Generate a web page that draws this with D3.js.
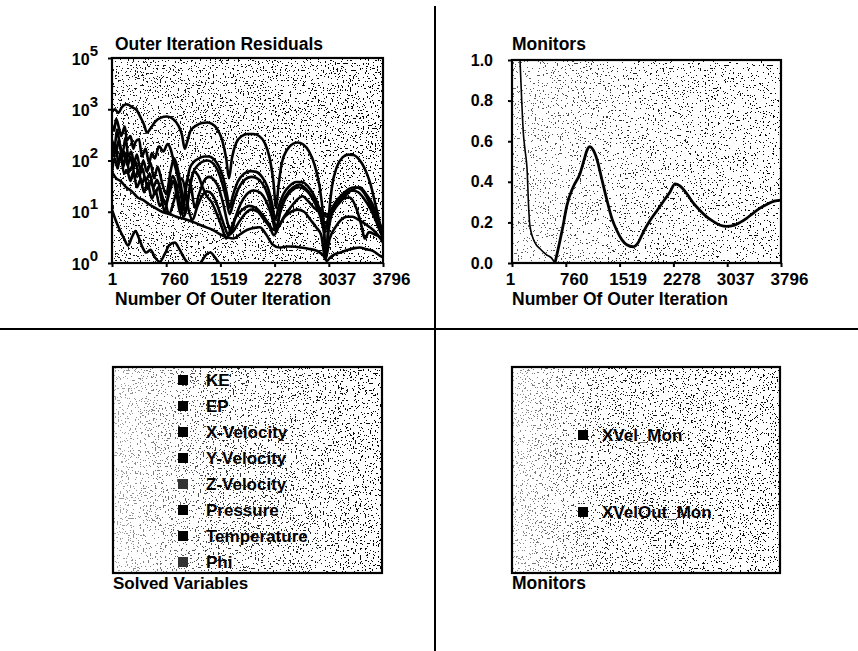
<!DOCTYPE html>
<html><head><meta charset="utf-8">
<script src="https://cdn.jsdelivr.net/npm/d3@7/dist/d3.min.js"></script>
<style>
body{margin:0;background:#fff}
svg{display:block}
text{font-family:"Liberation Sans",Arial,sans-serif;font-weight:bold;fill:#000}
</style>
</head><body>
<svg id="chart" width="858" height="651"></svg>
<script>
// ---------- data ----------
const iterTicks = [1, 760, 1519, 2278, 3037, 3796];
const iterTickLabels = ["1", "760", "1519", "2278", "3037", "3796"];
const residualTicks = [1, 10, 100, 1000, 10000];
const residualTickExp = ["0", "1", "2", "3", "5"];
const monitorTicks = [0, 0.2, 0.4, 0.6, 0.8, 1.0];
const monitorTickLabels = ["0.0", "0.2", "0.4", "0.6", "0.8", "1.0"];
const solvedVariables = ["KE", "EP", "X-Velocity", "Y-Velocity", "Z-Velocity", "Pressure", "Temperature", "Phi"];
const monitorNames = ["XVel_Mon", "XVelOut_Mon"];

// residuals: [outer iteration, residual]
const resKE = [[1,900],[40,1000],[90,850],[140,1100],[210,1250],[280,1100],[350,950],[400,700],[450,500],[490,350],[540,420],[600,560],[680,680],[770,720],[860,640],[930,480],[980,320],[1020,170],[1050,220],[1100,380],[1180,480],[1260,540],[1330,550],[1400,520],[1470,420],[1540,260],[1600,110],[1640,45],[1680,110],[1740,220],[1820,300],[1900,330],[1975,330],[2060,300],[2140,220],[2210,110],[2260,40],[2300,12],[2330,30],[2380,90],[2450,160],[2530,210],[2600,225],[2680,205],[2760,150],[2840,80],[2910,30],[2960,8],[3000,1.3],[3030,6],[3080,30],[3150,75],[3230,115],[3310,130],[3380,128],[3460,105],[3540,70],[3620,35],[3690,14],[3750,6],[3796,3]];
const resEP = [[1,500],[30,380],[60,650],[100,420],[130,300],[180,460],[210,250],[260,300],[300,170],[330,230],[380,260],[420,120],[470,170],[520,90],[560,140],[600,110],[660,190],[720,150],[780,210],[820,170],[870,90],[920,50],[960,25],[1000,12],[1040,30],[1090,70],[1150,95],[1220,110],[1290,120],[1360,120],[1430,105],[1500,75],[1560,45],[1610,22],[1650,12],[1690,20],[1760,38],[1850,55],[1940,62],[2020,60],[2100,48],[2180,30],[2240,15],[2290,7],[2330,12],[2400,22],[2490,32],[2580,38],[2660,38],[2740,32],[2820,22],[2900,12],[2960,5],[3000,1.5],[3040,5],[3110,12],[3200,18],[3290,24],[3370,26],[3450,24],[3530,18],[3610,12],[3690,7],[3760,4],[3796,3]];
const resXVel = [[1,250],[40,190],[70,400],[110,210],[150,140],[190,280],[230,120],[270,150],[310,90],[350,130],[400,65],[440,100],[490,60],[540,90],[590,45],[640,75],[700,38],[760,22],[820,60],[870,110],[920,70],[970,30],[1020,10],[1070,20],[1130,55],[1200,80],[1270,95],[1340,100],[1410,90],[1480,65],[1540,38],[1600,18],[1650,9],[1700,15],[1770,28],[1860,42],[1950,48],[2030,45],[2110,35],[2190,20],[2250,9],[2300,5],[2350,9],[2430,18],[2520,26],[2610,30],[2690,28],[2770,22],[2850,14],[2920,8],[2980,4],[3010,6],[3060,10],[3140,16],[3230,22],[3320,28],[3400,30],[3480,28],[3560,20],[3640,12],[3720,7],[3796,4]];
const resYVel = [[1,120],[30,200],[60,150],[100,260],[140,110],[170,150],[220,80],[260,120],[300,70],[330,95],[380,50],[430,70],[470,40],[530,55],[580,30],[630,42],[690,24],[750,14],[810,25],[860,40],[910,20],[960,9],[1010,20],[1060,45],[1110,30],[1160,12],[1220,22],[1290,40],[1360,48],[1430,42],[1500,28],[1560,14],[1620,6],[1670,4],[1720,7],[1800,14],[1890,22],[1980,26],[2070,24],[2160,16],[2240,8],[2300,4],[2360,12],[2450,22],[2540,30],[2630,34],[2720,28],[2820,18],[2920,11],[3010,8],[3080,11],[3150,14],[3240,18],[3330,19],[3420,12],[3500,5],[3540,3],[3600,4],[3700,3.5],[3796,3]];
const resZVel = [[1,60],[40,110],[80,70],[120,140],[170,55],[210,65],[260,40],[300,60],[350,30],[400,42],[450,24],[500,36],[560,18],[610,26],[670,13],[730,17],[800,9],[860,15],[920,30],[980,45],[1030,25],[1080,10],[1130,7],[1190,12],[1260,20],[1330,25],[1400,22],[1470,14],[1530,8],[1580,5],[1630,3.5],[1690,4],[1770,6],[1860,9],[1950,11],[2040,10],[2130,7],[2210,5],[2270,3.5],[2330,5],[2420,8],[2510,10],[2600,11],[2690,10],[2780,7],[2860,5],[2930,3.5],[2990,1.2],[3050,3],[3130,5],[3210,7],[3290,8],[3370,8],[3450,7],[3530,6],[3610,5],[3690,4],[3760,3],[3796,2.5]];
const resPressure = [[1,180],[30,120],[50,210],[90,90],[130,120],[160,75],[200,140],[240,60],[290,80],[320,45],[370,65],[420,35],[460,48],[500,28],[550,40],[600,22],[650,30],[700,16],[740,10],[790,22],[850,50],[900,35],[950,15],[1000,8],[1050,12],[1100,35],[1150,60],[1210,50],[1270,30],[1330,20],[1400,15],[1470,9],[1540,5],[1600,3],[1660,4.5],[1740,8],[1830,11],[1920,13],[2010,12],[2100,9],[2190,6],[2260,4.5],[2330,5],[2410,8],[2500,12],[2590,17],[2670,20],[2750,16],[2830,12],[2910,10],[2980,9],[3052,9],[3150,13],[3250,19],[3350,26],[3470,30],[3560,22],[3650,14],[3730,7],[3796,4]];
const resTemperature = [[1,60],[60,45],[120,40],[200,30],[280,25],[360,19],[435,17],[520,14],[600,12],[700,10],[810,9],[900,8],[1050,7],[1150,6.2],[1280,5.2],[1415,4.4],[1520,3.6],[1610,3.2],[1700,3],[1790,3.6],[1890,4.4],[1980,4.8],[2070,5],[2160,3.6],[2250,2.3],[2350,2],[2450,2.1],[2535,2.1],[2650,2],[2750,1.9],[2880,1.7],[2960,1.4],[3010,1.1],[3060,1.3],[3130,1.5],[3200,1.6],[3300,1.8],[3400,1.95],[3470,2],[3560,1.85],[3660,1.7],[3750,1.4],[3796,1.3]];
const resPhi = [[1,11],[50,7],[110,4.4],[170,3],[225,2.2],[280,3.2],[330,4.2],[380,3],[430,2],[480,1.6],[540,1.8],[600,1.3],[670,1.05],[740,1.5],[800,2.2],[880,2.5],[950,1.8],[1020,1.2],[1100,0.9],[1180,0.8],[1260,1.1],[1330,1.5],[1380,1.6],[1440,1.3],[1500,1.0],[1560,0.8],[1700,0.6],[2000,0.5],[2400,0.6],[2800,0.7],[3200,0.6],[3796,0.5]];

// monitors: [outer iteration, value]
const monXVel = [[60,1.3],[114,1.0],[138,0.8],[161,0.64],[184,0.56],[217,0.44],[231,0.31],[255,0.18],[325,0.10],[396,0.07],[490,0.04],[560,0.024],[607,0.0]];
const monXVelOut = [[607,0],[640,0.05],[678,0.11],[730,0.2],[773,0.28],[866,0.376],[960,0.44],[1020,0.51],[1060,0.556],[1100,0.573],[1140,0.56],[1200,0.51],[1270,0.41],[1340,0.31],[1410,0.22],[1480,0.16],[1550,0.115],[1620,0.09],[1712,0.08],[1780,0.1],[1850,0.15],[1950,0.21],[2050,0.26],[2150,0.31],[2230,0.35],[2301,0.39],[2370,0.38],[2470,0.34],[2560,0.295],[2650,0.26],[2740,0.23],[2840,0.205],[2940,0.186],[3030,0.18],[3130,0.185],[3220,0.2],[3310,0.22],[3400,0.245],[3500,0.27],[3600,0.29],[3700,0.305],[3796,0.31]];

const residualSeries = [resKE, resEP, resXVel, resYVel, resZVel, resPressure, resTemperature, resPhi];
const monitorSeries = [monXVel, monXVelOut];

// ---------- drawing ----------
const svg = d3.select("#chart");
const defs = svg.append("defs");

function speckleFilter(id, seed, freq, thresholdIndex) {
  const f = defs.append("filter").attr("id", id)
    .attr("x", 0).attr("y", 0).attr("width", "100%").attr("height", "100%")
    .attr("color-interpolation-filters", "sRGB");
  f.append("feTurbulence").attr("type", "fractalNoise").attr("baseFrequency", freq)
    .attr("numOctaves", 2).attr("seed", seed).attr("result", "n");
  f.append("feColorMatrix").attr("in", "n").attr("type", "matrix")
    .attr("values", "0 0 0 0 0  0 0 0 0 0  0 0 0 0 0  1 0 0 0 0").attr("result", "a");
  const table = d3.range(40).map(i => i >= thresholdIndex ? 1 : 0).join(" ");
  f.append("feComponentTransfer").attr("in", "a")
    .append("feFuncA").attr("type", "discrete").attr("tableValues", table);
}
speckleFilter("speckA", 3, 0.6, 26);
speckleFilter("speckB", 8, 0.6, 27);
speckleFilter("speckC", 13, 0.6, 26);
speckleFilter("speckD", 21, 0.6, 26);

function gradMask(id, stops) {
  const g = defs.append("linearGradient").attr("id", id + "g").attr("x1", 0).attr("x2", 1).attr("y1", 0).attr("y2", 0);
  stops.forEach(s => g.append("stop").attr("offset", s[0]).attr("stop-color", "#fff").attr("stop-opacity", s[1]));
  const m = defs.append("mask").attr("id", id).attr("maskContentUnits", "objectBoundingBox");
  m.append("rect").attr("width", 1).attr("height", 1).attr("fill", `url(#${id}g)`);
}
gradMask("mTL", [[0, 0.9], [1, 1]]);
gradMask("mTR", [[0, 0.6], [0.5, 0.9], [1, 1]]);
gradMask("mBL", [[0, 0.35], [0.4, 0.8], [1, 1]]);
gradMask("mBR", [[0, 0.4], [0.35, 0.9], [1, 1]]);

function texturedBox(x, y, w, h, filterId, maskId) {
  svg.append("rect").attr("x", x).attr("y", y).attr("width", w).attr("height", h).attr("fill", "#fff");
  svg.append("rect").attr("x", x).attr("y", y).attr("width", w).attr("height", h)
    .attr("fill", "#000").attr("filter", `url(#${filterId})`).attr("mask", `url(#${maskId})`);
}
function frame(x, y, w, h) {
  svg.append("rect").attr("x", x).attr("y", y).attr("width", w).attr("height", h)
    .attr("fill", "none").attr("stroke", "#000").attr("stroke-width", 2.2);
}

// dividers
svg.append("line").attr("x1", 0).attr("x2", 858).attr("y1", 329).attr("y2", 329).attr("stroke", "#000").attr("stroke-width", 2);
svg.append("line").attr("x1", 435).attr("x2", 435).attr("y1", 6).attr("y2", 651).attr("stroke", "#000").attr("stroke-width", 2);

// ---- Panel 1: Outer Iteration Residuals ----
{
  const L = 112, R = 383, T = 58, B = 263;
  const x = d3.scaleLinear().domain([1, 3796]).range([L, R]);
  const y = d3.scaleLog().domain([1, 10000]).range([B, T]);
  texturedBox(L, T, R - L, B - T, "speckA", "mTL");
  defs.append("clipPath").attr("id", "clipRes").append("rect").attr("x", L).attr("y", T).attr("width", R - L).attr("height", B - T);
  const line = d3.line().x(d => x(d[0])).y(d => y(Math.max(d[1], 0.3))).curve(d3.curveMonotoneX);
  svg.append("g").attr("clip-path", "url(#clipRes)").selectAll("path").data(residualSeries).join("path")
    .attr("d", line).attr("fill", "none").attr("stroke", "#000").attr("stroke-width", 2.6).attr("stroke-linejoin", "round");
  frame(L, T, R - L, B - T);
  const ax = svg.append("g").attr("transform", `translate(0,${B})`)
    .call(d3.axisBottom(x).tickValues(iterTicks).tickFormat((d, i) => iterTickLabels[i]).tickSize(4).tickPadding(6));
  ax.select(".domain").remove();
  ax.selectAll("line").attr("stroke-width", 2);
  ax.selectAll("text").attr("font-size", 17).attr("font-family", "Liberation Sans").attr("font-weight", "bold")
    .attr("dx", (d, i) => i === 0 ? 0 : 8);
  const ay = svg.append("g").attr("transform", `translate(${L},0)`)
    .call(d3.axisLeft(y).tickValues(residualTicks).tickSize(4).tickPadding(10).tickFormat(""));
  ay.select(".domain").remove();
  ay.selectAll("line").attr("stroke-width", 2);
  ay.selectAll(".tick text").each(function (d, i) {
    const t = d3.select(this);
    t.attr("font-family", "Liberation Sans").attr("font-weight", "bold").attr("font-size", 16).attr("dy", 6);
    t.append("tspan").text("10");
    t.append("tspan").attr("dy", -9).attr("font-size", 15).text(residualTickExp[i]);
  });
  svg.append("text").attr("x", 115).attr("y", 50).attr("font-size", 17.5).text("Outer Iteration Residuals");
  svg.append("text").attr("x", 115).attr("y", 305).attr("font-size", 17.5).text("Number Of Outer Iteration");
}

// ---- Panel 2: Monitors chart ----
{
  const L = 512, R = 781, T = 60, B = 263;
  const x = d3.scaleLinear().domain([1, 3796]).range([L, R]);
  const y = d3.scaleLinear().domain([0, 1]).range([B, T]);
  texturedBox(L, T, R - L, B - T, "speckB", "mTR");
  defs.append("clipPath").attr("id", "clipMon").append("rect").attr("x", L).attr("y", T).attr("width", R - L).attr("height", B - T);
  const line = d3.line().x(d => x(d[0])).y(d => y(d[1])).curve(d3.curveMonotoneX);
  svg.append("g").attr("clip-path", "url(#clipMon)").selectAll("path").data(monitorSeries).join("path")
    .attr("d", line).attr("fill", "none").attr("stroke", "#000")
    .attr("stroke-width", (d, i) => i === 0 ? 1.6 : 2.8).attr("stroke-linejoin", "round");
  frame(L, T, R - L, B - T);
  const ax = svg.append("g").attr("transform", `translate(0,${B})`)
    .call(d3.axisBottom(x).tickValues(iterTicks).tickFormat((d, i) => iterTickLabels[i]).tickSize(4).tickPadding(6));
  ax.select(".domain").remove();
  ax.selectAll("line").attr("stroke-width", 2);
  ax.selectAll("text").attr("font-size", 17).attr("font-family", "Liberation Sans").attr("font-weight", "bold")
    .attr("dx", (d, i) => i === 0 ? -2 : 8);
  const ay = svg.append("g").attr("transform", `translate(${L},0)`)
    .call(d3.axisLeft(y).tickValues(monitorTicks).tickSize(4).tickPadding(15).tickFormat((d, i) => monitorTickLabels[i]));
  ay.select(".domain").remove();
  ay.selectAll("line").attr("stroke-width", 2);
  ay.selectAll("text").attr("font-size", 16).attr("font-family", "Liberation Sans").attr("font-weight", "bold");
  svg.append("text").attr("x", 512).attr("y", 50).attr("font-size", 17.5).text("Monitors");
  svg.append("text").attr("x", 512).attr("y", 305).attr("font-size", 17.5).text("Number Of Outer Iteration");
}

// ---- Panel 3: Solved Variables legend ----
{
  const L = 113, R = 382, T = 367, B = 573;
  texturedBox(L, T, R - L, B - T, "speckC", "mBL");
  const row = d3.scalePoint().domain(solvedVariables).range([380, 562]);
  defs.append("clipPath").attr("id", "clipSV").append("rect").attr("x", L).attr("y", T).attr("width", R - L).attr("height", B - T);
  const g = svg.append("g").attr("clip-path", "url(#clipSV)");
  const items = g.selectAll("g.item").data(solvedVariables).join("g").attr("class", "item")
    .attr("transform", d => `translate(0,${row(d)})`);
  items.append("rect").attr("x", 178).attr("y", -5).attr("width", 10).attr("height", 10)
    .attr("fill", d => (d === "Z-Velocity" || d === "Phi") ? "#333" : "#000");
  items.append("text").attr("x", 206).attr("y", 6).attr("font-size", 17).text(d => d);
  frame(L, T, R - L, B - T);
  svg.append("text").attr("x", 113).attr("y", 589).attr("font-size", 17).text("Solved Variables");
}

// ---- Panel 4: Monitors legend ----
{
  const L = 512, R = 780, T = 367, B = 573;
  texturedBox(L, T, R - L, B - T, "speckD", "mBR");
  const row = d3.scalePoint().domain(monitorNames).range([435, 512]);
  const items = svg.selectAll("g.mitem").data(monitorNames).join("g").attr("class", "mitem")
    .attr("transform", d => `translate(0,${row(d)})`);
  items.append("rect").attr("x", 578).attr("y", -5).attr("width", 10).attr("height", 10).attr("fill", "#000");
  items.append("text").attr("x", 602).attr("y", 6).attr("font-size", 17).text(d => d);
  frame(L, T, R - L, B - T);
  svg.append("text").attr("x", 512).attr("y", 589).attr("font-size", 17.5).text("Monitors");
}
</script>
</body></html>
